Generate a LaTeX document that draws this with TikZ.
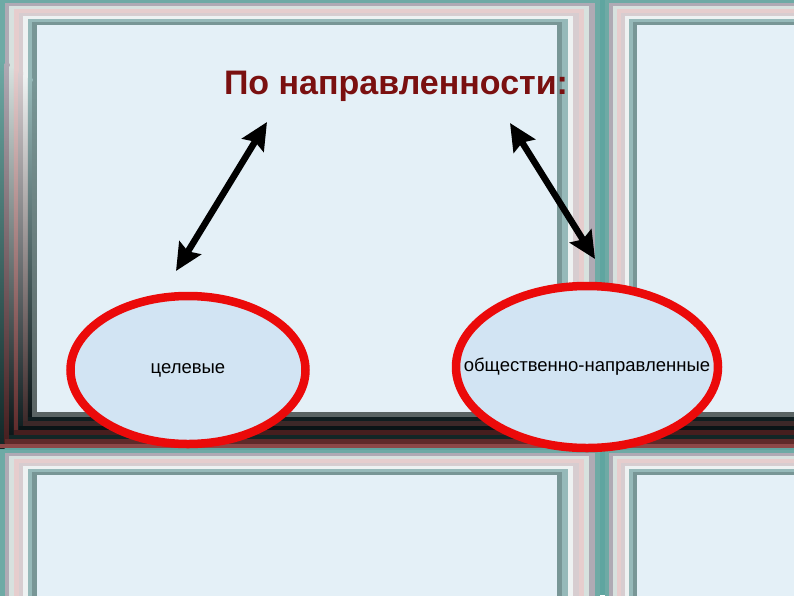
\documentclass[tikz,border=0pt]{standalone}
\usepackage{fontspec}
\setmainfont{Liberation Sans}
\usepackage{tikz}
\usetikzlibrary{shapes.geometric, arrows.meta, positioning}
\definecolor{bgteal}{RGB}{95,165,160}
\definecolor{stA}{RGB}{110,170,165}
\definecolor{stB}{RGB}{175,170,180}
\definecolor{stC}{RGB}{215,225,222}
\definecolor{stD}{RGB}{230,205,205}
\definecolor{stE}{RGB}{215,205,208}
\definecolor{stF}{RGB}{238,242,242}
\definecolor{stG}{RGB}{150,185,185}
\definecolor{stH}{RGB}{120,150,150}
\definecolor{dkA}{RGB}{140,72,72}
\definecolor{dkB}{RGB}{95,42,42}
\definecolor{dkC}{RGB}{18,38,38}
\definecolor{dkD}{RGB}{70,30,30}
\definecolor{dkE}{RGB}{10,20,22}
\definecolor{dkF}{RGB}{60,40,40}
\definecolor{dkG}{RGB}{15,30,32}
\definecolor{dkH}{RGB}{90,100,100}
\definecolor{panelfill}{RGB}{228,240,247}
\definecolor{ovalfill}{RGB}{210,228,243}
\definecolor{ovalred}{RGB}{235,10,10}
\definecolor{titlered}{RGB}{122,16,16}
\tikzstyle{oval} = [ellipse, draw=ovalred, line width=8.5pt, fill=ovalfill, text=black, font=\fontsize{18.5}{22}\selectfont, inner sep=0pt]
\tikzstyle{arrow} = [line width=6.5pt, {Stealth[length=27pt,width=25pt,inset=4pt]}-{Stealth[length=27pt,width=25pt,inset=4pt]}]
\begin{document}
\begin{tikzpicture}[x=1pt, y=-1pt, every node/.style={anchor=center}]
          \useasboundingbox (0,0) rectangle (794,595);
          \fill[bgteal] (0,0) rectangle (794,595);

          \foreach \fx/\fy/\fw/\fh/\il/\it/\ir/\ib in {0/0/600/448/37/25/43/36, 605/0/230/448/32/25/0/36, 0/450/600/200/37/25/43/0, 605/450/230/200/32/25/0/0}
          {
              \foreach \c [count=\i from 0] in {stA,stB,stC,stD,stE,stF,stG,stH}
                  \fill[\c] ({\fx+\il*\i/8},{\fy+\it*\i/8}) rectangle ({\fx+\fw-\ir*\i/8},{\fy+\fh-\ib*\i/8});
              \fill[panelfill] ({\fx+\il},{\fy+\it}) rectangle ({\fx+\fw-\ir},{\fy+\fh-\ib});
          }

          \foreach \c/\d [count=\i from 0] in {stA/dkC, stB/dkD, stC/dkE, stD/dkB, stE/dkG, stF/dkF, stG/dkE, stH/dkH}
              \shade[top color=\c, middle color=\c!40!\d, bottom color=\d] ({37*\i/8},{25*\i/8+60}) rectangle ({37*(\i+1)/8},{448-36*\i/8});

          \foreach \fx/\fw/\il/\ir in {0/600/37/43, 605/230/32/0}
          {
              \foreach \c [count=\i from 0] in {dkA,dkB,dkC,dkD,dkE,dkF,dkG,dkH}
                  \fill[\c] ({\fx+\il*\i/8},{448-36*(\i+1)/8}) rectangle ({\fx+\fw-\ir*\i/8},{448-36*\i/8});
              \fill[panelfill] ({\fx+\il},25) rectangle ({\fx+\fw-\ir},412);
          }

          \node[text=titlered, font=\fontsize{34}{38}\selectfont\bfseries] (title) at (396,86) {По направленности:};

          \node[oval, minimum width=235pt, minimum height=148pt] (oval-1) at (188,370) {\makebox[0pt]{целевые}};
          \node[oval, minimum width=262pt, minimum height=162pt] (oval-2) at (587,367) {\makebox[0pt]{общественно-направленные}};

          \coordinate (tip-1a) at (176,271);
          \coordinate (tip-1b) at (267,122);
          \coordinate (tip-2a) at (510,123);
          \coordinate (tip-2b) at (595,259);

          \draw[arrow] (tip-1a) -- (tip-1b);
          \draw[arrow] (tip-2a) -- (tip-2b);
      \end{tikzpicture}
\end{document}
